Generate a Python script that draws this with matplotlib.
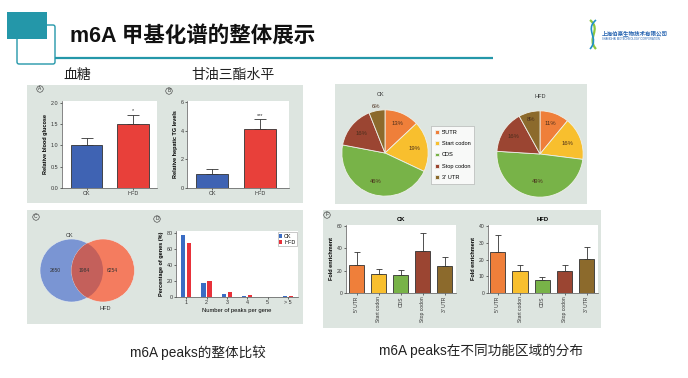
import numpy as np
import matplotlib.pyplot as plt
from matplotlib.patches import Rectangle, FancyBboxPatch, Circle, PathPatch
from matplotlib.path import Path

plt.rcParams['font.family'] = ['Liberation Sans', 'Noto Sans CJK SC']

W, H = 688, 378

# --- data ---
groups = ["CK", "HFD"]
glucose_mean = [1.0, 1.49]
glucose_err = [0.18, 0.23]
tg_mean = [0.98, 4.12]
tg_err = [0.35, 0.72]

venn_counts = [2650, 1984, 6254]

peak_bins = ["1", "2", "3", "4", "5", "> 5"]
peaks_ck = [76.6, 17.0, 3.4, 1.5, 0.0, 0.8]
peaks_hfd = [67.0, 20.4, 6.6, 3.0, 0.6, 0.8]

regions = ["5'UTR", "Start codon", "CDS", "Stop codon", "3' UTR"]
region_ticks = ["5' UTR", "Start codon", "CDS", "Stop codon", "3' UTR"]
pie_ck = [13, 19, 46, 16, 6]
pie_hfd = [11, 16, 49, 16, 8]

fold_ck = [24.8, 16.7, 16.4, 37.6, 24.2]
fold_ck_err = [11.6, 5.1, 4.5, 16.6, 8.5]
fold_hfd = [24.6, 13.1, 7.7, 13.1, 20.4]
fold_hfd_err = [9.9, 3.9, 1.8, 3.9, 6.9]

# --- colours ---
TEAL = "#2497a9"
PANEL = "#dde5e0"
BLUE = "#3f63b3"
RED = "#e8403a"
REGION_COLORS = ["#ef7f3a", "#f8bf2e", "#78b348", "#9b4532", "#8c6a2c"]
EDGE = "#333333"


def rect(x0, y0, x1, y1):
    return [x0 / W, 1 - y1 / H, (x1 - x0) / W, (y1 - y0) / H]


def style_ax(ax, tick_size=3.9):
    for s in ["top", "right"]:
        ax.spines[s].set_visible(False)
    for s in ["left", "bottom"]:
        ax.spines[s].set_linewidth(0.5)
        ax.spines[s].set_color("#555555")
    ax.tick_params(labelsize=tick_size, length=1.5, width=0.5, pad=1,
                   colors="#333333")
    ax.set_facecolor("white")


def circled(ax, x, y, letter):
    ax.text(x, y, letter, fontsize=3.5, ha="center", va="center", color="#333",
            bbox=dict(boxstyle="circle,pad=0.15", fc="none", ec="#333", lw=0.4))


def bar_panel(ax, means, errs, colors, width, capsize, ylim, yticks, xlim,
              ticklabels, rotation=0, ylabel="", tick_size=3.9):
    x = np.arange(len(means))
    ax.bar(x, means, width=width, color=colors, edgecolor=EDGE, linewidth=0.6,
           zorder=2)
    ax.errorbar(x, means, yerr=[np.zeros(len(errs)), errs], fmt="none",
                ecolor=EDGE, elinewidth=0.6, capsize=capsize, capthick=0.6,
                zorder=1)
    ax.set_xlim(*xlim)
    ax.set_ylim(*ylim)
    ax.set_yticks(yticks)
    ax.set_xticks(x)
    ax.set_xticklabels(ticklabels, rotation=rotation)
    ax.set_ylabel(ylabel, fontsize=4, fontweight="bold", labelpad=2)
    style_ax(ax, tick_size)


fig = plt.figure(figsize=(W / 100, H / 100), dpi=100)

# --- slide background layer in pixel units ---
bg = fig.add_axes([0, 0, 1, 1])
bg.set_xlim(0, W)
bg.set_ylim(H, 0)
bg.axis("off")

bg.add_patch(FancyBboxPatch((17, 25), 38, 39, boxstyle="round,pad=0,rounding_size=2",
                            fc="white", ec=TEAL, lw=1.0))
bg.add_patch(Rectangle((7, 12), 40, 27, fc=TEAL, ec="none"))
bg.plot([55, 493], [58, 58], color=TEAL, lw=1.6, solid_capstyle="butt")
bg.text(70, 37, "m6A 甲基化谱的整体展示", fontsize=15.5, fontweight="bold",
        va="center", ha="left", color="#111111")

# logo
helix_a = Path([(590, 20), (602, 30), (586, 38), (596, 49)],
               [Path.MOVETO, Path.CURVE4, Path.CURVE4, Path.CURVE4])
helix_b = Path([(596, 20), (584, 30), (600, 38), (590, 49)],
               [Path.MOVETO, Path.CURVE4, Path.CURVE4, Path.CURVE4])
bg.add_patch(PathPatch(helix_a, fc="none", ec="#8cc63f", lw=1.6))
bg.add_patch(PathPatch(helix_b, fc="none", ec="#1f8fc9", lw=1.2))
bg.text(602, 33, "上海伯豪生物技术有限公司", fontsize=4.0, fontweight="bold",
        color="#2462b0", va="center", ha="left")
bg.text(602, 39.5, "SHANGHAI BIOTECHNOLOGY CORPORATION", fontsize=1.9,
        color="#2462b0", va="center", ha="left")

bg.text(77, 75, "血糖", fontsize=10, ha="center", va="center", color="#222")
bg.text(233, 75, "甘油三酯水平", fontsize=10, ha="center", va="center", color="#222")

for x0, y0, x1, y1 in [(27, 85, 303, 203), (27, 210, 303, 324),
                       (335, 84, 587, 204), (323, 210, 601, 328)]:
    bg.add_patch(Rectangle((x0, y0), x1 - x0, y1 - y0, fc=PANEL, ec="none"))

circled(bg, 40, 89, "A")
circled(bg, 169, 91, "B")
circled(bg, 36, 217, "C")
circled(bg, 157, 219, "D")
circled(bg, 327, 215, "F")

bg.text(198, 353, "m6A peaks的整体比较", fontsize=9.8, ha="center", va="center",
        color="#222")
bg.text(481, 351, "m6A peaks在不同功能区域的分布", fontsize=9.8, ha="center",
        va="center", color="#222")

# --- A: blood glucose ---
ax_a = fig.add_axes(rect(62, 101, 157, 188))
bar_panel(ax_a, glucose_mean, glucose_err, [BLUE, RED], 0.68, 4.5,
          (0, 2.04), [0, 0.5, 1.0, 1.5, 2.0], (-0.53, 1.52), groups,
          ylabel="Relative blood glucose")
ax_a.set_yticklabels(["0.0", "0.5", "1.0", "1.5", "2.0"])
ax_a.text(1, glucose_mean[1] + glucose_err[1] + 0.03, "*", fontsize=4,
          ha="center", va="bottom", color="#333")

# --- B: hepatic TG ---
ax_b = fig.add_axes(rect(187, 101, 289, 188))
bar_panel(ax_b, tg_mean, tg_err, [BLUE, RED], 0.67, 4.5,
          (0, 6.1), [0, 2, 4, 6], (-0.52, 1.6), groups,
          ylabel="Relative hepatic TG levels")
ax_b.text(1, tg_mean[1] + tg_err[1] + 0.08, "***", fontsize=4,
          ha="center", va="bottom", color="#333")

# --- C: Venn ---
ax_c = fig.add_axes(rect(30, 225, 150, 315))
ax_c.set_xlim(30, 150)
ax_c.set_ylim(315, 225)
ax_c.axis("off")
c_ck = Circle((71.5, 270.5), 31.5, fc="#7a95d3", ec="#e8eef0", lw=0.4)
c_hfd = Circle((103, 270.5), 31.5, fc="#f47c5f", ec="#e8eef0", lw=0.4)
ax_c.add_patch(c_ck)
ax_c.add_patch(c_hfd)
overlap = Circle((71.5, 270.5), 31.5, fc="#c4605b", ec="none")
ax_c.add_patch(overlap)
overlap.set_clip_path(c_hfd)
ax_c.text(70, 235, "CK", fontsize=4, ha="center", va="center", color="#333")
ax_c.text(105, 308, "HFD", fontsize=4, ha="center", va="center", color="#333")
for xpos, n in zip([55, 84, 112], venn_counts):
    ax_c.text(xpos, 271, str(n), fontsize=3.6, ha="center", va="center",
              color="#333")

# --- D: peaks per gene ---
ax_d = fig.add_axes(rect(176, 231, 298, 297))
xd = np.arange(1, len(peak_bins) + 1)
ax_d.bar(xd - 0.145, peaks_ck, width=0.21, color="#3a6cc4", label="CK")
ax_d.bar(xd + 0.145, peaks_hfd, width=0.21, color="#e8313a", label="HFD")
ax_d.set_xlim(0.5, 6.5)
ax_d.set_ylim(0, 82)
ax_d.set_yticks([0, 20, 40, 60, 80])
ax_d.set_xticks(xd)
ax_d.set_xticklabels(peak_bins)
ax_d.set_xlabel("Number of peaks per gene", fontsize=4.2, labelpad=2)
ax_d.set_ylabel("Percentage of genes (%)", fontsize=4, fontweight="bold",
                labelpad=2)
style_ax(ax_d)
ax_d.legend(loc="upper right", fontsize=3.9, frameon=True, fancybox=False,
            edgecolor="#888", handlelength=0.6, handleheight=0.6,
            handletextpad=0.3, borderpad=0.3, labelspacing=0.2,
            borderaxespad=0.2).get_frame().set_linewidth(0.4)

# --- E: pies ---
def draw_pie(box, values, radii):
    ax = fig.add_axes(rect(*box))
    wedges, texts, autotexts = ax.pie(
        values, colors=REGION_COLORS, startangle=90, counterclock=False,
        autopct="%d%%", pctdistance=1.0, radius=1.0,
        wedgeprops=dict(edgecolor="#eef0ea", linewidth=0.6),
        textprops=dict(fontsize=4.2, color="#4a2e1c"))
    for t, r in zip(autotexts, radii):
        x, y = t.get_position()
        t.set_position((x * r, y * r))
    ax.set_xlim(-1.02, 1.02)
    ax.set_ylim(-1.02, 1.02)
    ax.set_aspect("equal")
    return ax, wedges

ax_e1, wedges = draw_pie((341, 109, 429, 197), pie_ck,
                         [0.74, 0.68, 0.7, 0.72, 1.1])
ax_e2, _ = draw_pie((496, 110, 584, 198), pie_hfd,
                    [0.74, 0.69, 0.64, 0.74, 0.83])
bg.text(381, 95, "CK", fontsize=4, ha="center", va="center", color="#333")
bg.text(540, 96, "HFD", fontsize=4, ha="center", va="center", color="#333")
leg = ax_e1.legend(wedges, regions, loc="center",
                   bbox_to_anchor=(452.5 / W, 1 - 155 / H),
                   bbox_transform=fig.transFigure, fontsize=4.1, frameon=True,
                   fancybox=False, edgecolor="#999", handlelength=0.7,
                   handleheight=0.7, handletextpad=0.5, labelspacing=1.1,
                   borderpad=0.7)
leg.get_frame().set_linewidth(0.4)
leg.get_frame().set_facecolor("white")

# --- F: fold enrichment ---
ax_f1 = fig.add_axes(rect(346, 225, 456, 293))
bar_panel(ax_f1, fold_ck, fold_ck_err, REGION_COLORS, 0.68, 2.5,
          (0, 61), [0, 20, 40, 60], (-0.48, 4.5), region_ticks,
          rotation=90, ylabel="Fold enrichment", tick_size=3.6)
ax_f1.set_title("CK", fontsize=4.2, fontweight="bold", pad=3)

ax_f2 = fig.add_axes(rect(488, 225, 598, 293))
bar_panel(ax_f2, fold_hfd, fold_hfd_err, REGION_COLORS, 0.68, 2.5,
          (0, 40.6), [0, 10, 20, 30, 40], (-0.44, 4.5), region_ticks,
          rotation=90, ylabel="Fold enrichment", tick_size=3.6)
ax_f2.set_title("HFD", fontsize=4.2, fontweight="bold", pad=3)

fig.savefig("out.png", dpi=100)
